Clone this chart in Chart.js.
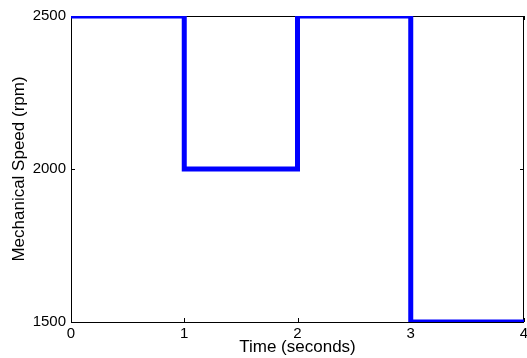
<!DOCTYPE html>
<html>
<head>
<meta charset="utf-8">
<script src="https://cdn.jsdelivr.net/npm/chart.js@4"></script>
<style>
html,body{margin:0;padding:0;background:#fff;}
#wrap{width:527px;height:358px;position:relative;}
</style>
</head>
<body>
<div id="wrap"><canvas id="c" width="527" height="358"></canvas></div>
<script>
const timeSeconds = [0, 1, 1, 2, 2, 3, 3, 4];
const speedRpm = [2500, 2500, 2000, 2000, 2500, 2500, 1500, 1500];
const xTicks = [0, 1, 2, 3, 4];
const yTicks = [1500, 2000, 2500];

const points = timeSeconds.map((t, i) => ({x: t, y: speedRpm[i]}));

const boxPlugin = {
  id: 'matlabBox',
  beforeDatasetsDraw(chart) {
    const {ctx, chartArea: a, scales} = chart;
    ctx.save();
    ctx.strokeStyle = '#000';
    ctx.lineWidth = 1;
    ctx.beginPath();
    const tl = 4;
    xTicks.forEach(v => {
      const px = Math.round(scales.x.getPixelForValue(v)) + 0.5;
      ctx.moveTo(px, a.bottom); ctx.lineTo(px, a.bottom - tl);
      ctx.moveTo(px, a.top); ctx.lineTo(px, a.top + tl);
    });
    yTicks.forEach(v => {
      const py = Math.round(scales.y.getPixelForValue(v)) + 0.5;
      ctx.moveTo(a.left, py); ctx.lineTo(a.left + tl, py);
      ctx.moveTo(a.right, py); ctx.lineTo(a.right - tl, py);
    });
    ctx.stroke();
    ctx.beginPath();
    ctx.rect(Math.round(a.left) + 0.5, Math.round(a.top) + 0.5, Math.round(a.right - a.left) - 1, Math.round(a.bottom - a.top));
    ctx.stroke();
    ctx.restore();
  }
};

new Chart(document.getElementById('c'), {
  type: 'scatter',
  data: {
    datasets: [{
      data: points,
      showLine: true,
      borderColor: '#0000ff',
      backgroundColor: '#0000ff',
      borderWidth: 5,
      pointRadius: 0,
      tension: 0,
      borderJoinStyle: 'miter',
      borderCapStyle: 'butt'
    }]
  },
  options: {
    responsive: false,
    animation: false,
    layout: {padding: {top: 16, right: 3, left: 0, bottom: 0}},
    plugins: {legend: {display: false}, tooltip: {enabled: false}},
    scales: {
      x: {
        type: 'linear', min: 0, max: 4,
        afterBuildTicks(s) { s.ticks = xTicks.map(v => ({value: v})); },
        afterFit(s) { s.height = 36; s.paddingLeft = 0; s.paddingRight = 0; },
        grid: {display: false, drawTicks: false},
        border: {display: false},
        ticks: {color: '#000', padding: 3, font: {family: 'Liberation Sans', size: 15}, maxRotation: 0,
                callback: v => String(v)},
        title: {display: true, text: 'Time (seconds)', color: '#000', font: {family: 'Liberation Sans', size: 17}, padding: {top: 0, bottom: 0}}
      },
      y: {
        type: 'linear', min: 1500, max: 2500,
        afterBuildTicks(s) { s.ticks = yTicks.map(v => ({value: v})); },
        afterFit(s) { s.width = 71; s.paddingTop = 0; s.paddingBottom = 0; },
        grid: {display: false, drawTicks: false},
        border: {display: false},
        ticks: {color: '#000', padding: 5, font: {family: 'Liberation Sans', size: 15},
                callback: v => String(v)},
        title: {display: true, text: 'Mechanical Speed (rpm)', color: '#000', font: {family: 'Liberation Sans', size: 17}, padding: {top: 9, bottom: 0}}
      }
    }
  },
  plugins: [boxPlugin]
});
</script>
</body>
</html>
